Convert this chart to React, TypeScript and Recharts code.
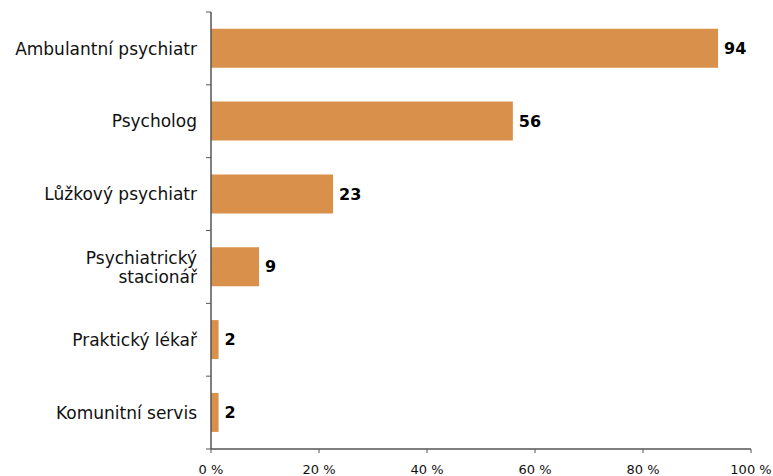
import { Bar, BarChart, LabelList, XAxis, YAxis } from "recharts";

const BAR_COLOR = "#D9904A";
const AXIS_COLOR = "#555555";
const FONT = "'DejaVu Sans', Verdana, sans-serif";

const WIDTH = 773;
const HEIGHT = 476;
const MARGIN = { top: 12, right: 22, left: 0, bottom: 0 };
const Y_AXIS_WIDTH = 211;
const X_AXIS_HEIGHT = 27;

const categories = [
  "Ambulantní psychiatr",
  "Psycholog",
  "Lůžkový psychiatr",
  "Psychiatrický stacionář",
  "Praktický lékař",
  "Komunitní servis",
];
const shares = [93.9, 55.9, 22.6, 8.9, 1.4, 1.4];
const shareLabels = ["94", "56", "23", "9", "2", "2"];
const xTicks = [0, 20, 40, 60, 80, 100];

const data = categories.map((name, i) => ({ name, share: shares[i], label: shareLabels[i] }));

const PLOT_HEIGHT = HEIGHT - MARGIN.top - MARGIN.bottom - X_AXIS_HEIGHT;
const BAND = PLOT_HEIGHT / categories.length;
const AXIS_X = MARGIN.left + Y_AXIS_WIDTH;

function CategoryTick(props: any) {
  const { x, y, payload, index } = props;
  const text: string = payload.value;
  const lines = text.length > 21 ? text.split(" ") : [text];
  const lineH = 19;
  const first = -((lines.length - 1) * lineH) / 2;
  return (
    <g>
      <line x1={AXIS_X - 5} x2={AXIS_X} y1={y - BAND / 2} y2={y - BAND / 2} stroke={AXIS_COLOR} strokeWidth={1} />
      {index === categories.length - 1 && (
        <line x1={AXIS_X - 5} x2={AXIS_X} y1={y + BAND / 2} y2={y + BAND / 2} stroke={AXIS_COLOR} strokeWidth={1} />
      )}
      <text x={x} y={y} textAnchor="end" fontFamily={FONT} fontSize={17} fill="#111">
        {lines.map((l, i) => (
          <tspan key={i} x={x} y={y + first + i * lineH} dy="0.36em">
            {l}
          </tspan>
        ))}
      </text>
    </g>
  );
}

export default function App() {
  return (
    <div style={{ position: "absolute", left: 0, top: 0, background: "#fff" }}>
      <BarChart width={WIDTH} height={HEIGHT} data={data} layout="vertical" margin={MARGIN} barCategoryGap="23%">
        <XAxis
          type="number"
          domain={[0, 100]}
          ticks={xTicks}
          tickFormatter={(v: number) => `${v} %`}
          height={X_AXIS_HEIGHT}
          tickSize={4}
          tickMargin={12}
          axisLine={{ stroke: AXIS_COLOR, strokeWidth: 1.5 }}
          tickLine={{ stroke: AXIS_COLOR }}
          tick={{ fontSize: 13, fontFamily: FONT, fill: "#111" }}
          interval={0}
        />
        <YAxis
          type="category"
          dataKey="name"
          width={Y_AXIS_WIDTH}
          tickSize={5}
          tickMargin={9}
          tickLine={false}
          axisLine={{ stroke: AXIS_COLOR, strokeWidth: 1.5 }}
          tick={<CategoryTick />}
          interval={0}
        />
        <Bar dataKey="share" fill={BAR_COLOR} isAnimationActive={false}>
          <LabelList
            dataKey="label"
            position="right"
            offset={6}
            style={{ fontFamily: FONT, fontSize: 16, fontWeight: "bold", fill: "#000" }}
          />
        </Bar>
      </BarChart>
    </div>
  );
}
